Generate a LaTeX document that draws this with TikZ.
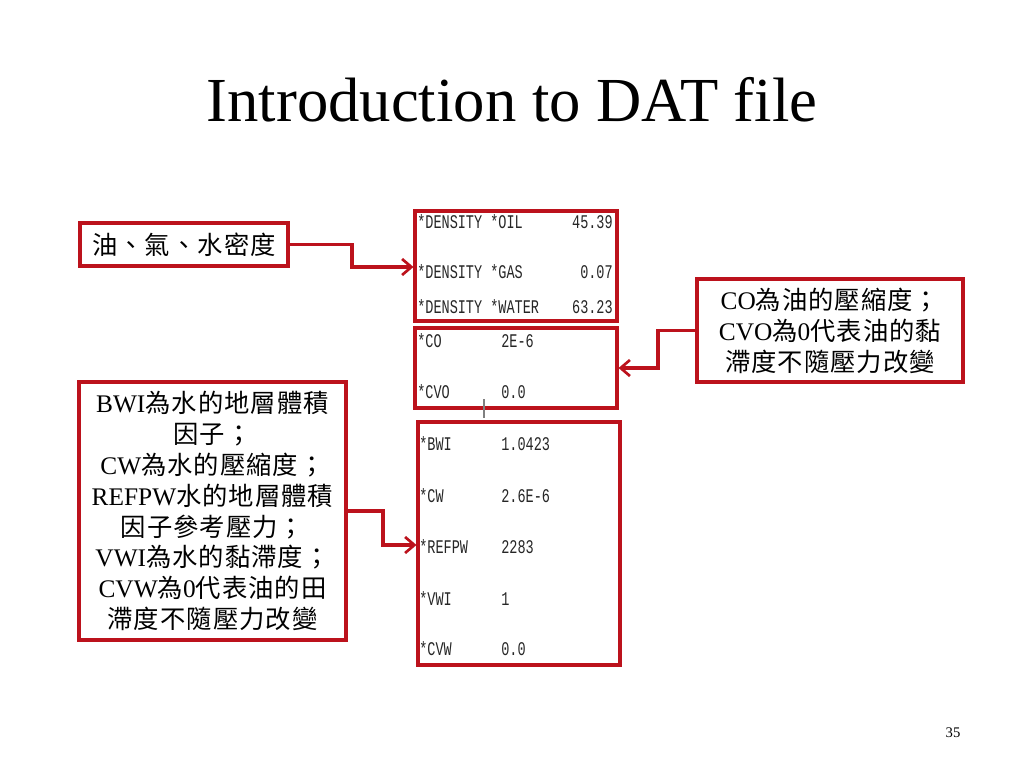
\documentclass[tikz,border=0pt]{standalone}
\usepackage{fontspec}
\setmainfont{Liberation Serif}
\newfontfamily\cjk[LetterSpace=4]{Noto Sans CJK TC}
\newfontfamily\monof[FakeStretch=0.7]{Liberation Mono}
\usetikzlibrary{arrows.meta}
\newdimen\pxu \pxu=0.75pt
\definecolor{boxred}{RGB}{188,18,28}
\tikzset{
  redbox/.style={draw=boxred, line width=2.3pt, inner sep=0pt, align=center,
    font=\fontsize{19}{23.2}\selectfont},
  databox/.style={draw=boxred, line width=2.3pt, inner sep=0pt},
  dtext/.style={anchor=base west, inner sep=0pt, font=\monof\fontsize{14.5}{16}\selectfont, text=black!85},
  dnum/.style={anchor=base east, inner sep=0pt, font=\monof\fontsize{14.5}{16}\selectfont, text=black!85},
  conn/.style={draw=boxred, line width=2.3pt, -{Straight Barb[length=7pt,width=12pt,line width=2pt]}}
}
\begin{document}
\begin{tikzpicture}[x=0.75pt,y=-0.75pt]
\useasboundingbox (0,0) rectangle (1024,768);
% title
\node[font=\fontsize{47}{56}\selectfont] (title) at (512,100) {Introduction to DAT file};
\node[font=\fontsize{11}{13}\selectfont] (pnum) at (953,733) {35};
% data boxes
\node[databox, minimum width=202\pxu, minimum height=110\pxu] (d1) at (516,266) {};
\node[databox, minimum width=202\pxu, minimum height=80\pxu] (d2) at (516,368) {};
\node[databox, minimum width=202\pxu, minimum height=243\pxu] (d3) at (519,543.5) {};
% data texts
\node[dtext] (t11) at (417,228) {*DENSITY *OIL};
\node[dnum]  (v11) at (613,228) {45.39};
\node[dtext] (t12) at (417,278) {*DENSITY *GAS};
\node[dnum]  (v12) at (613,278) {0.07};
\node[dtext] (t13) at (417,313) {*DENSITY *WATER};
\node[dnum]  (v13) at (613,313) {63.23};
\node[dtext] (t21) at (417,347) {*CO};
\node[dtext] (v21) at (501,347) {2E-6};
\node[dtext] (t22) at (417,398) {*CVO};
\node[dtext] (v22) at (501,398) {0.0};
\node[dtext] (t31) at (419,450) {*BWI};
\node[dtext] (v31) at (501,450) {1.0423};
\node[dtext] (t32) at (419,502) {*CW};
\node[dtext] (v32) at (501,502) {2.6E-6};
\node[dtext] (t33) at (419,553) {*REFPW};
\node[dtext] (v33) at (501,553) {2283};
\node[dtext] (t34) at (419,605) {*VWI};
\node[dtext] (v34) at (501,605) {1};
\node[dtext] (t35) at (419,655) {*CVW};
\node[dtext] (v35) at (501,655) {0.0};
% tick mark
\coordinate (tk1) at (484,399);
\coordinate (tk2) at (484,418);
\draw[gray, line width=1pt] (tk1) -- (tk2);
% explanation boxes
\node[redbox, minimum width=208\pxu, minimum height=43\pxu] (b1) at (184,244.5)
  {\cjk 油、氣、水密度};
\node[redbox, minimum width=266\pxu, minimum height=103\pxu] (b2) at (830,330.5)
  {CO{\cjk 為油的壓縮度；}\\CVO{\cjk 為}0{\cjk 代表油的黏}\\{\cjk 滯度不隨壓力改變}};
\node[redbox, minimum width=267\pxu, minimum height=258\pxu] (b3) at (212.5,511)
  {BWI{\cjk 為水的地層體積}\\{\cjk 因子；}\\CW{\cjk 為水的壓縮度；}\\REFPW{\cjk 水的地層體積}\\{\cjk 因子參考壓力；}\\VWI{\cjk 為水的黏滯度；}\\CVW{\cjk 為}0{\cjk 代表油的田}\\{\cjk 滯度不隨壓力改變}};
% connectors
\coordinate (e1) at (d1.west |- 0,267);
\coordinate (e2) at (d2.east |- 0,368);
\coordinate (e3) at (d3.west |- 0,545);
\draw[conn] (b1.east) -- (352,244.5) |- (e1);
\draw[conn] (b2.west) -- (658,330.5) |- (e2);
\draw[conn] (b3.east) -- (383,511) |- (e3);
\end{tikzpicture}
\end{document}
